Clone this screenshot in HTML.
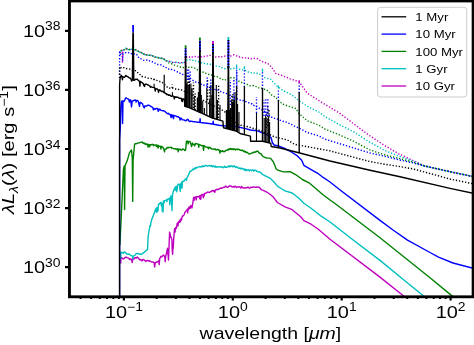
<!DOCTYPE html><html><head><meta charset="utf-8"><style>html,body{margin:0;padding:0;background:#fff;}svg{display:block;will-change:transform}</style></head><body><svg width="474" height="345" viewBox="0 0 474 345">
<defs><clipPath id="c"><rect x="69.5" y="1.3" width="403.3" height="295.2"/></clipPath></defs>
<g clip-path="url(#c)" fill="none" stroke-linejoin="round">
<polyline points="119.8,53.0 120.9,50.8 122.1,50.2 122.5,62.0 123.0,52.0 124.5,49.8 125.9,48.3 127.2,48.9 128.4,49.3 129.7,49.6 131.0,49.6 132.2,49.4 133.5,50.1 134.7,50.1 136.0,49.9 137.3,50.6 138.5,51.3 139.8,51.7 141.1,52.1 142.3,53.2 143.6,54.0 144.9,54.3 146.2,54.1 147.4,55.1 148.7,54.8 150.0,55.3 151.3,55.4 152.5,55.6 153.8,56.9 155.0,57.1 156.3,57.2 157.6,57.8 158.8,57.8 160.1,57.5 161.3,58.0 162.6,58.4 163.9,59.0 165.1,59.3 166.4,60.8 167.7,61.0 169.1,61.3 170.6,61.5 172.0,62.2 173.4,62.6 174.9,62.0 176.4,62.9 177.8,62.6 179.1,62.6 180.4,62.7 181.7,62.6 183.0,62.7 184.3,62.8 186.2,57.0 187.4,56.6 188.6,56.4 189.8,57.2 191.1,56.5 192.3,57.0 193.5,56.7 194.8,56.4 196.1,57.2 197.4,57.1 198.7,57.0 200.0,57.0 201.3,56.8 202.6,56.7 203.9,56.7 205.2,55.8 206.5,55.9 207.8,56.0 209.1,55.4 210.4,55.4 211.7,56.5 213.0,56.7 214.3,56.6 215.6,57.0 216.9,56.8 218.2,56.8 219.6,56.7 220.9,57.3 222.2,56.7 223.6,56.5 225.1,56.0 226.6,55.9 228.0,56.2 229.5,56.1 230.9,56.0 232.4,55.1 233.9,54.8 235.4,55.3 236.9,56.0 238.3,56.7 239.8,57.0 241.0,57.0 242.3,57.6 243.5,57.8 244.7,58.1 246.0,57.9 247.2,58.5 248.5,58.2 249.7,58.3 251.0,58.9 252.3,58.3 253.6,58.6 254.8,58.3 256.1,58.5 257.6,58.8 259.1,59.5 260.5,61.0 262.0,61.4 263.5,62.2 264.9,62.4 266.4,63.2 267.9,63.6 269.1,64.8 270.4,66.0 271.6,66.6 272.8,69.3 274.1,70.9 275.3,73.2 279.7,74.7 287.1,77.5 290.0,78.8 299.0,81.7 307.4,93.3 319.0,100.6 325.0,104.4 339.5,113.1 354.0,124.0 368.5,134.9 375.0,139.2 384.5,145.4 399.0,154.0 413.5,160.6 424.6,166.0 450.0,171.7 474.0,176.8" stroke="#bf00bf" stroke-width="1.4" stroke-dasharray="1.3 1.8" stroke-dashoffset="0.0"/>
<polyline points="120.8,263.5 120.8,257.7 121.8,257.7 122.7,258.8 123.6,258.8 124.5,258.2 125.4,257.2 126.2,257.1 127.0,257.7 127.7,257.9 128.5,258.2 129.3,258.9 130.1,259.6 130.9,258.9 131.7,260.0 132.2,262.5 132.7,260.0 133.4,258.5 134.2,259.0 134.9,257.7 135.7,257.6 136.4,258.1 137.2,256.9 138.0,257.7 138.7,258.3 139.5,259.5 140.2,259.8 140.9,259.5 141.6,260.7 142.3,260.7 143.0,259.4 143.7,259.5 144.4,260.4 145.1,260.6 145.9,261.4 146.6,260.6 147.4,260.5 148.1,261.0 148.9,260.5 149.6,261.4 150.3,261.2 151.1,261.8 151.8,262.1 152.6,261.9 153.3,262.1 154.1,262.8 154.3,264.3 154.7,267.0 155.2,262.9 155.9,262.2 156.6,262.3 157.4,261.8 158.1,261.9 158.8,260.5 159.2,264.6 159.7,258.7 160.2,257.7 161.0,256.3 161.8,256.9 162.6,255.8 163.4,255.1 164.7,256.4 165.2,261.7 165.6,256.7 166.6,252.7 167.5,248.3 168.5,260.0 169.6,232.3 170.1,233.9 170.6,237.1 171.0,236.8 171.9,239.6 172.2,249.3 172.6,254.3 172.8,250.1 173.3,246.8 173.7,238.2 174.6,228.6 174.6,228.6 175.1,232.1 175.5,228.0 175.6,228.2 175.7,227.5 175.8,227.4 176.2,228.5 176.6,227.1 177.1,223.7 177.5,223.1 178.0,225.9 178.4,222.0 178.9,221.4 179.4,222.5 179.8,220.3 180.0,220.1 180.4,221.9 180.9,218.9 181.0,218.6 181.5,220.1 181.9,217.3 182.7,215.7 183.4,215.8 184.2,214.5 184.9,212.2 185.7,211.4 186.4,210.6 187.2,209.5 187.7,212.8 188.1,208.4 188.6,209.7 189.0,207.1 189.2,206.8 189.6,208.6 189.7,208.2 190.1,208.3 190.6,206.4 190.9,205.4 192.0,207.9 192.8,203.1 193.6,197.5 193.7,197.5 194.1,200.3 194.6,197.2 195.1,197.1 195.8,196.9 196.2,199.9 196.7,196.7 197.6,196.8 198.5,196.9 199.3,195.9 199.8,198.7 200.2,195.7 200.3,195.6 200.8,199.3 201.2,195.2 202.1,194.6 202.9,194.3 203.3,197.7 203.6,195.0 204.1,196.1 204.5,193.5 205.4,193.6 206.2,192.6 206.9,192.7 207.7,191.9 208.4,192.2 209.2,192.5 209.9,192.2 210.7,191.5 211.4,191.5 212.2,190.4 212.9,190.6 213.6,191.3 214.4,190.6 214.8,192.4 215.3,190.3 216.0,189.9 216.7,189.2 217.4,189.5 218.2,189.5 218.9,189.2 219.6,188.5 220.3,188.3 221.1,188.1 221.8,188.3 222.5,187.6 223.2,187.5 224.0,187.2 224.7,187.2 225.4,186.3 226.2,186.2 226.9,187.1 227.7,187.4 228.4,186.7 229.1,186.2 229.9,185.7 230.6,186.1 231.3,186.2 232.1,187.0 232.8,186.8 233.5,186.5 234.3,187.1 235.0,186.2 235.8,186.7 236.5,187.5 237.2,187.0 238.0,186.9 238.7,187.0 239.4,186.7 240.1,187.2 240.8,187.9 241.6,186.4 242.3,187.7 243.0,187.9 243.7,188.0 244.4,187.8 245.1,188.0 245.8,187.6 246.6,187.7 247.3,187.6 248.0,187.0 248.7,187.8 249.4,188.3 250.1,187.7 250.9,187.1 251.6,187.5 252.3,187.3 253.1,187.0 253.8,186.9 254.5,187.1 255.2,187.2 255.9,187.3 256.7,187.3 257.4,187.0 258.1,187.1 258.8,186.9 259.6,187.8 260.3,188.2 261.0,189.3 261.8,189.8 262.6,190.1 263.3,190.4 264.1,190.8 264.9,191.2 265.6,191.6 266.4,191.9 267.2,192.3 270.0,194.3 273.0,196.7 277.4,202.5 285.0,206.8 292.2,209.7 301.0,217.0 303.8,220.6 311.1,224.2 318.3,229.3 330.0,239.3 380.0,277.1 403.0,295.5 410.0,301.0" stroke="#bf00bf" stroke-width="1.4"/>
<polyline points="119.8,53.0 120.9,50.8 122.1,50.2 123.4,50.0 124.6,48.6 125.9,48.3 127.2,48.3 128.4,49.7 129.7,49.6 131.0,49.3 132.2,49.3 133.5,49.9 134.7,49.7 136.0,49.9 137.3,51.0 138.5,51.0 139.8,52.4 141.1,52.5 142.3,53.4 143.6,54.0 144.9,54.7 146.2,54.7 147.4,55.2 148.7,55.2 150.0,55.3 151.3,55.2 152.5,56.4 153.8,56.5 155.0,56.6 156.3,57.2 157.6,57.1 158.8,58.0 160.1,58.0 161.3,58.6 162.6,58.4 163.9,59.3 165.1,60.2 166.4,60.4 167.7,61.0 169.1,61.6 170.6,61.9 172.0,62.2 173.4,62.1 174.9,62.9 176.4,62.3 177.8,62.6 179.1,63.0 180.4,63.2 181.7,63.0 183.0,62.6 184.3,63.0 186.2,59.6 187.4,60.1 188.6,60.1 189.9,59.8 191.1,59.8 192.3,60.4 193.6,60.1 194.8,61.2 196.0,60.9 197.3,61.3 198.6,61.8 199.9,62.1 201.3,62.8 202.6,63.5 203.9,63.5 205.2,63.5 206.5,63.7 207.8,64.0 209.1,64.1 210.4,64.2 211.7,64.9 213.1,65.1 214.4,65.4 215.7,65.9 217.0,66.1 218.3,66.6 219.6,66.6 220.9,67.9 222.2,67.7 223.5,68.2 224.8,68.7 226.4,68.3 228.0,68.1 229.3,68.6 230.5,68.8 231.8,68.5 233.1,68.5 234.4,68.3 235.6,69.2 236.9,68.9 238.1,68.8 239.3,69.4 240.6,69.4 241.8,69.7 243.0,69.9 244.2,70.3 245.4,70.5 246.6,70.8 247.8,71.7 249.0,72.4 250.2,72.6 251.5,72.8 252.7,72.5 254.0,73.1 255.2,72.6 256.5,73.0 257.7,73.5 259.0,73.3 260.5,74.8 261.9,75.5 263.4,76.9 264.9,77.7 266.4,78.1 267.9,78.5 269.3,78.9 270.8,79.2 272.3,81.3 273.8,82.7 275.2,84.1 276.7,85.8 277.9,86.9 279.2,87.7 280.4,88.3 281.6,89.6 282.9,90.5 284.1,91.0 285.3,91.6 286.6,92.2 287.8,92.8 289.0,93.5 290.3,94.1 291.5,94.7 299.0,100.6 307.4,106.4 319.0,112.2 325.0,116.7 339.5,124.7 354.0,132.0 368.5,141.4 384.5,150.4 399.0,156.2 413.5,161.3 424.6,166.0 450.0,171.7 474.0,176.8" stroke="#00bfbf" stroke-width="1.4" stroke-dasharray="1.3 1.8" stroke-dashoffset="1.6"/>
<polyline points="120.8,258.8 120.8,251.9 121.8,252.9 122.7,252.4 123.5,253.3 124.3,252.0 125.1,252.2 125.9,253.0 126.6,253.8 127.4,254.0 128.1,254.2 128.9,253.9 129.6,254.5 130.5,255.2 131.4,255.7 132.3,256.0 132.8,258.8 133.3,256.0 134.4,255.6 135.3,255.0 136.1,253.7 137.0,253.5 137.8,253.5 138.6,253.6 139.4,254.2 140.2,254.0 141.0,254.5 141.8,254.2 142.5,253.3 143.3,253.0 144.4,252.1 145.4,251.4 146.4,250.2 147.5,249.8 148.1,236.7 149.1,230.3 150.0,225.4 150.5,225.9 150.9,222.5 152.0,218.7 153.0,216.4 153.7,214.4 154.5,212.2 155.2,210.3 156.0,208.6 156.1,209.5 156.5,212.2 156.9,207.5 157.3,211.7 157.6,208.0 158.0,210.8 158.5,204.1 159.3,204.2 160.1,203.0 161.0,202.4 161.4,206.0 161.9,203.1 161.9,203.3 162.3,211.2 162.8,210.3 163.0,212.0 163.5,201.0 163.6,200.9 164.1,202.8 164.5,200.6 165.5,200.4 166.4,199.9 166.9,201.5 167.3,199.6 168.2,198.9 169.0,199.0 169.4,198.1 169.4,198.6 169.8,204.6 170.2,200.2 170.7,197.1 171.1,195.8 171.4,197.3 171.8,205.8 172.0,210.6 172.5,195.0 173.2,191.8 173.9,189.9 174.7,187.8 175.1,190.1 175.6,186.8 176.2,186.4 176.6,191.7 177.1,190.1 177.1,190.1 177.5,185.3 178.3,184.1 179.1,184.1 179.3,184.6 179.5,185.5 179.8,188.2 180.3,191.4 180.7,183.7 181.1,185.9 181.5,182.3 181.6,182.3 182.0,188.1 182.5,181.6 183.2,181.1 183.9,181.4 184.6,180.3 185.3,179.0 186.0,179.0 186.5,180.4 186.9,177.6 187.7,176.6 188.5,174.9 189.2,173.2 190.0,171.2 190.7,171.4 191.4,170.7 192.2,170.2 192.9,169.0 193.6,169.6 194.3,168.3 195.0,168.8 195.8,167.3 196.5,168.0 197.2,167.7 198.0,167.1 198.7,166.9 199.4,166.8 200.1,166.6 200.9,167.1 201.6,166.3 202.3,166.7 203.0,165.8 203.7,166.5 204.5,166.3 205.2,165.5 205.9,165.4 206.6,165.6 207.4,166.2 208.1,166.0 208.8,165.7 209.6,165.4 210.3,165.6 211.0,166.3 211.7,165.5 212.5,166.8 213.2,166.2 213.9,165.9 214.6,167.0 215.4,166.1 216.1,167.3 216.8,166.9 217.6,166.7 218.3,166.8 219.0,167.1 219.7,167.1 220.4,166.7 221.2,166.6 221.9,167.2 222.6,167.1 223.3,167.7 224.1,167.2 224.8,166.2 225.5,167.3 226.2,167.1 227.0,167.3 227.7,166.6 228.4,166.1 229.1,166.9 229.9,165.7 230.6,166.6 231.3,166.0 232.1,165.9 232.8,166.9 233.5,166.2 234.2,165.8 234.9,166.7 235.7,167.5 236.4,166.7 237.1,166.9 237.8,167.6 238.5,168.4 239.3,167.9 240.0,168.3 240.7,168.9 241.4,168.0 242.2,168.7 242.9,168.6 243.6,169.6 244.3,168.9 245.0,170.5 245.8,169.2 246.5,170.6 247.2,170.4 247.9,169.6 248.7,170.0 249.4,170.9 250.1,169.9 250.8,169.9 251.6,170.7 252.3,170.2 253.0,169.7 253.8,171.2 254.5,170.4 255.2,170.1 255.9,170.2 256.6,170.9 257.4,171.6 258.1,172.0 258.8,171.9 259.5,171.8 260.3,172.6 261.0,172.6 261.7,173.8 262.5,174.3 263.2,174.8 270.4,178.4 274.0,182.0 277.7,186.4 282.0,189.0 285.0,190.9 292.2,193.0 299.5,198.8 303.8,203.2 311.1,208.3 321.2,216.2 330.0,222.0 353.2,240.0 380.0,260.4 403.9,280.0 423.0,295.5 430.0,301.0" stroke="#00bfbf" stroke-width="1.4"/>
<polyline points="119.8,53.0 120.9,50.8 122.1,50.2 123.4,50.0 124.6,49.4 125.9,48.3 127.2,49.1 128.4,48.8 129.7,49.6 131.0,49.8 132.2,49.6 133.5,49.8 134.7,49.5 136.0,49.9 137.3,50.3 138.5,51.2 139.8,51.7 141.1,52.6 142.3,52.8 143.6,54.0 144.9,53.8 146.2,54.7 147.4,54.7 148.7,55.1 150.0,55.3 151.3,55.9 152.5,55.9 153.8,56.0 155.0,57.1 156.3,57.2 157.6,57.5 158.8,57.8 160.1,58.0 161.3,58.6 162.6,58.4 163.8,59.1 165.1,60.4 166.3,60.8 167.5,61.9 168.8,62.8 170.0,63.5 171.3,63.7 172.6,64.0 173.9,64.8 175.2,65.5 176.5,65.8 177.8,66.1 179.1,66.4 180.4,67.0 181.7,66.9 183.0,67.3 184.3,68.0 186.2,66.7 187.4,66.7 188.6,67.4 189.8,67.0 191.1,67.2 192.3,67.4 193.5,68.0 194.8,68.1 196.1,68.9 197.4,69.8 198.7,70.6 200.0,70.7 201.3,71.3 202.6,72.0 203.9,72.3 205.2,72.8 206.5,73.8 207.8,74.0 209.1,74.5 210.4,74.7 211.7,74.9 213.0,76.0 214.3,76.4 215.6,76.9 216.9,76.7 218.2,77.4 219.5,77.8 220.8,78.9 222.2,79.2 223.5,80.2 224.8,80.4 226.4,79.1 228.0,78.5 229.5,78.8 230.9,77.7 232.4,77.8 233.9,77.7 235.1,78.0 236.4,79.5 237.6,80.1 238.8,81.2 240.1,81.8 241.3,82.2 242.5,83.1 243.8,83.2 245.0,84.1 246.2,84.4 247.5,84.5 248.7,85.1 249.9,85.8 251.2,85.5 252.4,85.5 253.6,85.7 254.9,86.3 256.1,86.6 257.4,86.7 258.7,87.9 260.1,88.4 261.4,88.1 262.7,88.8 264.0,89.0 265.3,89.9 266.6,90.1 267.9,91.0 269.4,92.5 270.8,94.3 272.3,95.5 273.8,96.2 275.2,97.4 276.7,98.4 277.9,100.1 279.1,101.0 280.3,102.4 281.7,102.9 283.1,104.2 284.5,104.8 285.9,105.2 287.3,105.9 296.0,108.5 299.0,113.6 307.4,120.9 319.0,125.2 325.0,129.1 339.5,134.9 354.0,141.4 370.0,150.0 384.5,154.8 399.0,158.4 413.5,162.3 424.6,166.0 450.0,171.7 474.0,176.8" stroke="#008000" stroke-width="1.4" stroke-dasharray="1.3 1.8" stroke-dashoffset="0.8"/>
<polyline points="119.9,245.0 121.8,205.0 123.4,170.0 124.2,166.0 124.6,209.5 125.0,166.0 126.8,161.6 127.4,160.1 129.4,152.9 130.6,151.2 131.5,150.0 132.3,158.0 132.7,201.4 133.1,160.0 133.8,152.2 134.6,144.3 135.4,143.6 136.3,143.7 137.0,143.5 137.7,143.0 138.4,143.1 139.1,142.9 139.8,142.5 140.9,142.4 141.6,142.0 142.4,142.1 143.1,143.5 143.9,142.9 144.6,143.1 145.3,144.3 146.1,143.8 146.8,144.5 147.6,144.2 148.0,147.0 148.5,144.5 148.5,144.5 149.3,144.5 149.7,146.8 150.2,144.6 150.9,144.6 151.6,144.9 152.4,144.2 153.1,144.8 153.6,145.8 154.0,144.8 155.0,145.1 155.9,144.9 156.4,146.5 156.8,145.0 156.9,145.0 157.1,145.1 157.5,146.5 157.6,146.3 158.1,148.1 158.5,145.5 159.5,146.4 160.5,146.2 160.9,149.0 161.4,146.5 162.1,146.8 162.8,147.0 164.0,149.5 164.0,149.5 164.5,151.9 164.9,149.1 165.7,149.1 166.5,148.6 167.2,147.4 168.0,148.0 168.8,147.3 169.5,147.6 170.3,147.3 171.0,147.1 171.8,148.4 172.5,148.0 173.3,148.5 174.0,148.9 174.8,148.8 175.5,148.7 176.2,149.4 177.0,148.7 177.7,149.0 178.2,151.7 178.6,149.1 179.4,149.6 180.2,149.2 180.9,150.0 181.7,150.0 182.5,149.0 183.3,149.2 184.0,149.4 184.8,150.6 185.6,150.0 186.5,141.1 187.7,141.3 188.1,143.9 188.6,141.5 189.0,141.6 190.0,141.5 190.8,144.0 191.6,146.6 192.4,143.0 193.1,144.2 193.9,144.7 194.6,146.0 195.3,143.5 196.1,143.7 196.9,143.8 197.6,144.0 198.4,144.4 198.7,147.3 199.1,144.5 199.9,144.8 200.6,145.0 201.4,145.7 202.2,145.6 203.0,145.5 203.1,146.3 203.5,150.4 204.0,145.8 204.5,145.9 205.4,146.8 206.2,147.0 207.1,147.5 208.0,147.1 208.4,148.7 208.9,147.4 209.6,147.8 210.3,147.4 211.0,148.6 211.8,149.0 212.5,149.1 213.2,148.8 213.9,149.1 214.6,149.4 215.4,148.9 216.1,150.0 216.8,149.8 217.6,149.5 218.3,149.4 219.0,150.2 219.5,150.3 219.9,153.1 220.4,150.6 221.1,151.2 221.9,151.6 222.6,150.6 223.3,151.7 224.1,151.4 224.8,151.7 225.5,150.7 226.2,150.3 227.0,150.4 227.7,149.5 228.4,149.9 229.1,148.7 229.9,149.4 230.6,148.5 231.3,149.4 232.1,148.7 232.8,149.4 233.5,148.8 234.2,149.6 234.9,149.1 235.7,149.9 236.4,149.1 237.1,148.9 237.8,149.8 238.6,149.2 239.3,149.5 240.0,150.1 240.7,150.2 241.4,150.6 242.2,150.2 242.9,150.2 243.6,151.6 244.4,151.0 245.1,152.1 245.8,151.6 246.5,152.7 247.2,152.4 248.0,153.0 248.7,153.6 249.4,154.1 250.1,153.9 250.8,153.5 251.6,153.1 252.3,152.8 253.0,152.3 253.7,152.8 254.5,152.0 255.2,151.8 255.9,152.0 256.6,151.2 257.4,151.2 258.1,151.3 258.8,152.7 259.6,152.9 260.3,153.7 261.0,153.7 261.7,155.0 262.5,155.9 263.2,156.7 266.8,158.1 270.4,158.1 273.3,161.7 276.2,169.0 278.4,170.4 283.5,171.9 290.1,171.6 296.0,174.8 302.4,179.5 309.0,182.8 314.0,187.0 322.7,194.5 330.0,200.0 335.0,203.5 380.0,237.8 430.0,277.8 450.8,294.9 458.0,300.5" stroke="#008000" stroke-width="1.4"/>
<polyline points="119.6,78.0 119.6,52.0 120.5,55.2 122.4,53.9 122.6,61.7 123.0,53.9 125.0,52.6 126.3,52.8 127.7,52.9 129.0,52.6 130.3,52.6 131.6,53.8 132.9,53.3 134.2,54.1 135.5,53.9 136.8,54.6 138.1,56.8 139.4,58.5 140.7,58.6 142.0,59.7 143.3,60.1 144.6,60.4 145.9,60.4 147.2,59.8 148.5,60.2 149.8,61.1 151.1,61.7 152.4,61.7 153.7,62.0 155.0,63.1 156.3,63.7 157.6,64.5 158.9,64.6 160.2,64.6 161.5,65.0 162.8,65.6 164.2,67.1 165.5,67.1 166.8,68.3 168.1,68.9 169.4,69.3 170.7,68.9 172.0,69.6 173.4,70.0 174.9,70.6 176.4,71.4 177.8,72.0 179.1,72.5 180.4,73.6 181.7,74.3 183.0,74.5 184.3,74.6 185.7,75.0 187.1,76.4 188.5,76.6 189.8,77.7 191.2,79.3 192.6,80.2 193.8,81.0 195.0,81.6 196.3,82.3 197.5,82.7 198.7,82.6 199.9,83.6 201.1,84.3 202.4,84.0 203.6,85.0 204.8,85.5 206.0,85.6 207.2,86.0 208.5,86.8 209.7,87.4 210.9,88.1 212.1,87.7 213.3,88.5 214.6,89.4 215.8,89.6 217.0,89.8 218.3,90.4 219.6,90.6 220.9,91.6 222.2,91.8 223.6,92.7 224.9,93.2 226.2,93.5 227.5,94.2 228.8,95.1 230.0,95.4 231.2,96.1 232.5,97.1 233.8,97.2 235.0,98.1 236.3,98.2 237.6,99.0 238.9,99.3 240.2,100.2 241.6,100.0 242.9,100.5 244.2,100.6 245.5,101.5 246.8,102.0 248.1,102.4 249.4,103.1 250.7,104.0 252.0,103.8 253.3,105.3 254.6,105.6 255.9,105.9 257.2,107.1 258.5,107.7 259.8,108.6 261.1,109.3 262.5,110.2 263.8,110.9 265.1,111.8 266.4,112.9 267.7,113.8 269.0,114.9 270.3,116.5 271.6,117.2 273.0,118.0 274.4,118.4 275.8,118.3 277.2,119.0 278.6,119.8 279.8,120.2 281.1,120.8 282.3,120.9 283.6,121.5 284.8,122.1 286.1,122.1 287.3,122.5 296.0,126.8 299.0,128.1 307.4,132.5 319.0,135.9 325.0,139.2 339.5,143.6 370.0,153.0 384.5,156.2 399.0,159.8 413.5,163.0 424.6,166.0 450.0,171.7 474.0,176.8" stroke="#0000ff" stroke-width="1.4" stroke-dasharray="1.3 1.8" stroke-dashoffset="0.0"/>
<polyline points="119.6,296.0 119.6,140.0 120.4,126.0 120.8,108.0 121.4,101.3 122.2,101.0 122.6,123.5 123.0,101.0 124.3,101.3 125.6,97.9 126.4,98.0 127.3,98.8 128.2,98.9 129.0,100.0 129.4,102.1 129.8,100.0 130.7,100.0 131.5,106.8 132.2,101.0 133.2,100.9 134.1,100.3 134.9,100.0 135.8,100.3 136.1,102.1 136.5,100.4 137.4,100.4 138.3,101.3 139.5,106.3 140.1,102.5 140.9,102.4 141.7,103.2 142.5,103.8 143.3,106.4 144.2,108.0 144.8,106.0 145.8,105.9 146.5,106.0 147.3,105.7 148.0,105.1 149.1,105.2 150.1,105.9 150.9,106.5 151.8,106.8 152.6,107.6 153.0,107.9 153.4,109.9 153.9,108.5 155.1,109.3 156.0,108.7 156.9,108.3 157.7,108.6 158.2,111.3 158.2,111.1 158.7,110.9 159.1,109.2 159.9,109.1 160.6,110.2 161.3,110.4 162.0,110.6 162.8,110.9 163.5,110.5 164.2,111.1 164.9,111.3 165.7,112.2 166.4,112.7 167.2,113.4 167.9,113.8 168.7,113.3 169.4,114.3 170.4,114.6 170.6,116.0 171.1,117.6 171.5,114.8 172.0,115.0 172.5,116.7 172.9,115.2 173.0,115.2 173.5,118.6 173.9,115.5 175.0,115.9 176.0,116.0 176.7,116.6 177.5,116.7 178.2,116.7 178.9,117.4 179.6,117.8 180.1,120.0 180.5,118.3 181.3,118.2 182.1,119.6 182.8,119.9 183.6,119.9 184.3,120.0 185.1,120.6 186.0,120.7 186.8,119.8 187.7,119.3 189.0,121.0 189.7,121.6 190.4,121.2 191.2,121.3 191.9,121.4 192.6,121.5 193.3,121.6 194.0,121.7 194.8,121.8 195.5,121.9 196.2,122.0 196.9,122.1 197.6,122.2 198.4,122.3 199.1,122.4 199.8,122.5 200.1,118.6 200.4,122.5 212.9,124.0 213.2,121.2 213.5,124.2 219.0,125.2 222.9,125.8 236.0,126.5 245.5,128.6 250.4,130.0 257.4,130.9 264.3,133.5 269.8,136.5 271.2,138.0 272.3,142.5 274.0,145.0 279.6,146.3 283.5,148.0 289.8,151.0 297.4,155.9 301.7,160.3 303.9,165.4 309.0,168.3 317.7,173.3 323.5,177.7 330.0,182.0 340.1,190.0 380.0,220.4 393.0,230.0 407.5,240.1 430.0,252.5 438.5,257.2 453.0,263.0 474.0,268.5" stroke="#0000ff" stroke-width="1.4"/>
<polyline points="119.6,78.0 119.6,66.7 121.8,68.3 123.4,67.8 125.0,67.6 126.3,68.5 127.7,68.8 129.0,68.9 130.3,69.3 131.6,70.2 132.9,70.9 134.2,71.0 135.5,70.7 136.8,71.5 138.2,73.2 139.5,74.0 141.7,76.5 142.9,76.5 144.1,76.8 145.3,77.2 146.7,77.6 148.2,78.2 149.6,78.6 150.9,78.4 152.3,79.2 153.7,79.6 155.0,79.5 156.3,80.0 157.6,80.8 158.9,81.1 160.2,81.7 161.5,81.9 162.9,82.9 164.3,84.3 165.7,85.7 167.1,87.0 168.3,86.9 169.6,88.1 170.8,88.0 172.0,88.2 173.2,88.1 174.4,88.9 175.6,89.0 176.8,89.4 178.0,89.3 179.3,89.6 180.5,90.1 181.8,90.0 183.0,90.7 184.3,91.4 185.6,92.0 186.9,92.2 188.2,93.6 189.5,93.4 190.8,94.2 192.1,95.4 193.4,95.5 194.7,96.3 196.0,97.0 197.3,97.7 198.5,98.2 199.8,98.9 201.1,99.6 202.4,100.2 203.6,100.4 204.9,101.8 206.2,101.9 207.5,102.3 208.7,103.3 210.0,104.0 211.2,105.0 212.5,105.5 213.8,106.0 215.0,106.6 216.2,107.1 217.5,108.1 218.8,108.5 220.0,108.9 221.2,109.6 222.5,110.3 223.8,111.5 225.0,112.0 226.2,113.5 227.5,114.6 228.7,115.2 229.9,116.3 231.1,118.2 232.4,118.8 233.6,119.7 234.8,121.3 236.0,122.5 237.3,123.6 238.5,124.7 239.7,124.9 240.9,125.2 242.1,125.5 243.4,125.7 244.6,126.0 245.8,126.2 247.0,126.5 262.0,131.0 274.8,137.0 287.3,139.9 294.5,144.3 330.0,150.9 370.0,161.6 384.5,164.2 399.0,166.4 413.5,169.0 450.0,179.0 474.0,184.0" stroke="#000000" stroke-width="1.4" stroke-dasharray="1.3 1.8" stroke-dashoffset="0.0"/>
<polyline points="119.6,300.0 119.6,85.0 120.0,79.0 120.5,76.8 121.2,75.4 121.9,76.5 122.4,79.7 123.0,76.8 123.8,77.1 124.5,77.2 125.2,76.5 125.9,75.4 127.0,76.4 128.0,76.8 128.9,77.7 129.7,78.0 130.6,78.2 131.6,81.1 132.2,80.0 133.1,80.0 134.1,80.3 135.2,79.7 135.9,79.1 136.7,79.4 137.4,79.3 138.4,80.6 139.5,81.1 139.9,86.1 140.4,81.5 141.0,81.8 142.1,82.7 143.1,83.3 143.8,85.3 144.5,86.5 145.0,84.3 146.0,84.3 146.7,84.2 147.4,84.8 148.1,84.9 148.8,85.4 149.9,86.0 150.4,87.3 150.8,86.5 152.0,87.2 153.1,87.4 154.1,87.6 154.8,88.0 155.2,91.0 155.7,88.5 156.5,89.0 157.3,88.9 158.1,89.9 158.5,92.3 159.0,90.0 159.7,90.0 160.5,90.4 161.2,91.4 161.9,91.5 162.7,91.2 163.4,91.9 164.1,92.8 164.9,92.7 165.6,93.7 166.4,93.8 167.1,94.7 167.9,94.4 168.6,95.4 169.4,95.0 170.1,95.2 170.9,96.1 171.6,96.2 172.4,96.0 173.1,96.0 173.8,96.4 174.3,98.9 174.7,96.6 175.5,97.3 176.2,97.0 177.0,97.4 177.7,97.1 178.5,97.6 179.2,98.2 180.0,98.2 180.7,98.6 181.4,98.3 181.9,101.2 182.1,99.7 182.5,101.6 183.0,98.7 183.7,99.3 184.5,99.1 184.8,106.3 189.0,107.6 202.1,113.4 212.5,118.0 222.9,121.2 223.5,127.8 236.0,131.0 240.0,133.5 250.4,136.1 250.6,141.3 262.6,141.3 270.8,143.4 271.2,146.5 280.0,148.0 298.8,152.8 330.0,161.0 370.0,170.2 400.0,176.8 450.0,188.4 474.0,193.5" stroke="#000000" stroke-width="1.4"/>
<path d="M154.1 87.6V83.8 M172.4 96.0V92.3 M186.4 106.8V84.0 M187.1 107.0V82.0 M188.3 107.4V85.0 M189.5 107.8V84.0 M190.9 108.4V83.6 M192.1 109.0V88.3 M194.3 109.9V96.0 M197.3 111.3V98.0 M198.4 111.8V92.0 M201.3 113.0V95.0 M202.7 113.7V101.0 M204.4 114.4V108.0 M206.8 115.5V88.0 M209.6 116.7V99.8 M210.8 117.2V85.0 M212.1 117.8V95.0 M216.3 119.2V85.0 M217.5 119.5V100.0 M220.0 120.3V105.0 M226.3 128.5V110.0 M227.3 128.8V110.0 M229.6 129.4V110.0 M230.5 129.6V108.0 M231.7 129.9V100.0 M232.8 130.2V102.0 M233.9 130.5V99.5 M235.0 130.7V92.0 M237.6 132.0V104.0 M239.0 132.9V112.0 M256.5 141.3V112.6 M264.2 141.7V118.0 M265.6 142.1V116.0 M267.0 142.4V119.0 M268.4 142.8V117.0 M269.6 143.1V122.0" stroke="#000" stroke-width="1.1"/>
<path d="M154.1 80.0V77.3 M172.2 88.0V84.6 M193.5 108.0V82.5 M195.2 110.0V93.5 M188.2 86.0V76.0 M189.4 86.0V76.0 M207.5 100.0V80.0 M209.6 99.8V87.0 M218.6 118.0V85.0 M232.0 125.0V95.0 M233.0 120.0V92.0 M266.3 128.0V112.0 M267.7 126.0V106.0 M269.0 130.0V110.0" stroke="#000" stroke-width="1.4" stroke-dasharray="1.3 1.8"/>
<path d="M187.2 80.0V69.0 M188.6 80.0V69.0 M190.2 82.0V70.0 M207.2 88.0V76.8 M210.7 90.0V77.7 M230.3 105.0V80.0 M233.9 100.0V78.0 M236.8 95.0V70.0 M256.5 113.0V97.0 M264.0 116.0V100.0 M265.8 116.0V98.0 M267.8 116.0V98.7" stroke="#0000ff" stroke-width="1.4" stroke-dasharray="1.3 1.8"/>
<path d="M133.1 32.6V25.1" stroke="#0000ff" stroke-width="1.8"/>
<polygon points="131.70,80.0 132.25,32.6 133.95,32.6 134.50,80.0" fill="#000" stroke="none"/>
<path d="M185.6 58.0V48.2" stroke="#0000ff" stroke-width="1.7"/>
<path d="M185.6 58.0V48.2" stroke="#000" stroke-width="1.7" stroke-dasharray="1.5 1.5"/>
<path d="M185.6 48.2V45.2" stroke="#008000" stroke-width="1.7"/>
<polygon points="184.25,106.5 184.80,56.0 186.40,56.0 186.95,106.5" fill="#000" stroke="none"/>
<path d="M199.9 52.0V40.4" stroke="#0000ff" stroke-width="1.8"/>
<path d="M199.9 52.0V40.4" stroke="#000" stroke-width="1.8" stroke-dasharray="1.5 1.5"/>
<path d="M199.9 40.4V37.4" stroke="#008000" stroke-width="1.8"/>
<polygon points="198.50,112.4 199.05,50.0 200.75,50.0 201.30,112.4" fill="#000" stroke="none"/>
<path d="M213.0 54.0V44.0" stroke="#0000ff" stroke-width="1.8"/>
<path d="M213.0 54.0V44.0" stroke="#000" stroke-width="1.8" stroke-dasharray="1.5 1.5"/>
<path d="M213.0 44.0V41.0" stroke="#bf00bf" stroke-width="1.8"/>
<polygon points="211.60,118.2 212.15,52.0 213.85,52.0 214.40,118.2" fill="#000" stroke="none"/>
<path d="M228.4 68.0V40.0" stroke="#0000ff" stroke-width="1.8"/>
<path d="M228.4 68.0V40.0" stroke="#000" stroke-width="1.8" stroke-dasharray="1.5 1.5"/>
<path d="M228.4 40.0V37.0" stroke="#00bfbf" stroke-width="1.8"/>
<polygon points="227.00,129.1 227.55,66.0 229.25,66.0 229.80,129.1" fill="#000" stroke="none"/>
<path d="M236.6 87.0V67.4" stroke="#0000ff" stroke-width="1.3" stroke-dasharray="1.3 1.8"/>
<path d="M236.6 67.4V64.4" stroke="#00bfbf" stroke-width="1.3"/>
<path d="M236.6 131.4V86.0" stroke="#000" stroke-width="1.3"/>
<path d="M244.4 87.0V69.3" stroke="#0000ff" stroke-width="1.3" stroke-dasharray="1.3 1.8"/>
<path d="M244.4 69.3V66.3" stroke="#00bfbf" stroke-width="1.3"/>
<path d="M244.4 134.6V86.0" stroke="#000" stroke-width="1.3"/>
<path d="M262.5 89.0V71.8" stroke="#0000ff" stroke-width="1.4" stroke-dasharray="1.3 1.8"/>
<path d="M262.5 71.8V68.8" stroke="#00bfbf" stroke-width="1.4"/>
<path d="M262.5 141.3V88.0" stroke="#000" stroke-width="1.4"/>
<path d="M278.4 101.0V88.5" stroke="#0000ff" stroke-width="1.3" stroke-dasharray="1.3 1.8"/>
<path d="M278.4 88.5V85.5" stroke="#00bfbf" stroke-width="1.3"/>
<path d="M278.4 147.7V100.0" stroke="#000" stroke-width="1.3"/>
<path d="M299.2 93.0V83.3" stroke="#0000ff" stroke-width="1.4" stroke-dasharray="1.3 1.8"/>
<path d="M299.2 83.3V80.3" stroke="#bf00bf" stroke-width="1.4"/>
<path d="M299.2 152.9V92.0" stroke="#000" stroke-width="1.4"/>
<path d="M164.2 92.5V74.8" stroke="#000" stroke-width="1.2"/>
</g>
<rect x="69.45" y="0.95" width="403.65" height="295.85" fill="none" stroke="#000" stroke-width="2.85"/>
<path d="M123.90 296.8V300.6 M232.80 296.8V300.6 M341.70 296.8V300.6 M450.60 296.8V300.6 M69.5 267.20H65.0 M69.5 208.10H65.0 M69.5 149.00H65.0 M69.5 89.90H65.0 M69.5 30.80H65.0" stroke="#000" stroke-width="2.2"/>
<path d="M80.56 296.8V299.0 M91.12 296.8V299.0 M99.74 296.8V299.0 M107.03 296.8V299.0 M113.35 296.8V299.0 M118.92 296.8V299.0 M156.68 296.8V299.0 M175.86 296.8V299.0 M189.46 296.8V299.0 M200.02 296.8V299.0 M208.64 296.8V299.0 M215.93 296.8V299.0 M222.25 296.8V299.0 M227.82 296.8V299.0 M265.58 296.8V299.0 M284.76 296.8V299.0 M298.36 296.8V299.0 M308.92 296.8V299.0 M317.54 296.8V299.0 M324.83 296.8V299.0 M331.15 296.8V299.0 M336.72 296.8V299.0 M374.48 296.8V299.0 M393.66 296.8V299.0 M407.26 296.8V299.0 M417.82 296.8V299.0 M426.44 296.8V299.0 M433.73 296.8V299.0 M440.05 296.8V299.0 M445.62 296.8V299.0" stroke="#000" stroke-width="2.0"/>
<text transform="translate(123.90,317.8) scale(1.16,1)" font-family="Liberation Sans, sans-serif" font-size="17.2" text-anchor="middle">10<tspan font-size="12.0" dy="-6.6">−1</tspan></text>
<text transform="translate(232.80,317.8) scale(1.16,1)" font-family="Liberation Sans, sans-serif" font-size="17.2" text-anchor="middle">10<tspan font-size="12.0" dy="-6.6">0</tspan></text>
<text transform="translate(341.70,317.8) scale(1.16,1)" font-family="Liberation Sans, sans-serif" font-size="17.2" text-anchor="middle">10<tspan font-size="12.0" dy="-6.6">1</tspan></text>
<text transform="translate(450.60,317.8) scale(1.16,1)" font-family="Liberation Sans, sans-serif" font-size="17.2" text-anchor="middle">10<tspan font-size="12.0" dy="-6.6">2</tspan></text>
<text transform="translate(60.60,273.40) scale(1.16,1)" font-family="Liberation Sans, sans-serif" font-size="17.2" text-anchor="end">10<tspan font-size="12.0" dy="-6.6">30</tspan></text>
<text transform="translate(60.60,214.30) scale(1.16,1)" font-family="Liberation Sans, sans-serif" font-size="17.2" text-anchor="end">10<tspan font-size="12.0" dy="-6.6">32</tspan></text>
<text transform="translate(60.60,155.20) scale(1.16,1)" font-family="Liberation Sans, sans-serif" font-size="17.2" text-anchor="end">10<tspan font-size="12.0" dy="-6.6">34</tspan></text>
<text transform="translate(60.60,96.10) scale(1.16,1)" font-family="Liberation Sans, sans-serif" font-size="17.2" text-anchor="end">10<tspan font-size="12.0" dy="-6.6">36</tspan></text>
<text transform="translate(60.60,37.00) scale(1.16,1)" font-family="Liberation Sans, sans-serif" font-size="17.2" text-anchor="end">10<tspan font-size="12.0" dy="-6.6">38</tspan></text>
<text transform="translate(270.4,338.6) scale(1.133,1)" font-family="Liberation Sans, sans-serif" font-size="17.2" text-anchor="middle">wavelength [<tspan font-style="italic">μm</tspan>]</text>
<text transform="translate(14.2,149.6) rotate(-90) scale(1.17,1)" font-family="Liberation Sans, sans-serif" font-size="17.2" text-anchor="middle"><tspan font-style="italic">λL</tspan><tspan font-style="italic" font-size="12.0" dy="3.5">λ</tspan><tspan dy="-3.5">(</tspan><tspan font-style="italic">λ</tspan>) [erg s<tspan font-size="12.0" dy="-6.6">−1</tspan><tspan dy="6.6">]</tspan></text>
<rect x="377.6" y="7.3" width="89.1" height="89.7" rx="3" fill="#fff" fill-opacity="0.8" stroke="#cccccc" stroke-width="1"/>
<path d="M381.5 16.8H406.2" stroke="#000" stroke-width="1.3"/>
<text transform="translate(415.3,20.9) scale(1.12,1)" font-family="Liberation Sans, sans-serif" font-size="11.8">1 Myr</text>
<path d="M381.5 34.1H406.2" stroke="#0000ff" stroke-width="1.3"/>
<text transform="translate(415.3,38.2) scale(1.12,1)" font-family="Liberation Sans, sans-serif" font-size="11.8">10 Myr</text>
<path d="M381.5 51.4H406.2" stroke="#008000" stroke-width="1.3"/>
<text transform="translate(415.3,55.5) scale(1.12,1)" font-family="Liberation Sans, sans-serif" font-size="11.8">100 Myr</text>
<path d="M381.5 68.7H406.2" stroke="#00bfbf" stroke-width="1.3"/>
<text transform="translate(415.3,72.8) scale(1.12,1)" font-family="Liberation Sans, sans-serif" font-size="11.8">1 Gyr</text>
<path d="M381.5 86.0H406.2" stroke="#bf00bf" stroke-width="1.3"/>
<text transform="translate(415.3,90.1) scale(1.12,1)" font-family="Liberation Sans, sans-serif" font-size="11.8">10 Gyr</text>
</svg></body></html>
